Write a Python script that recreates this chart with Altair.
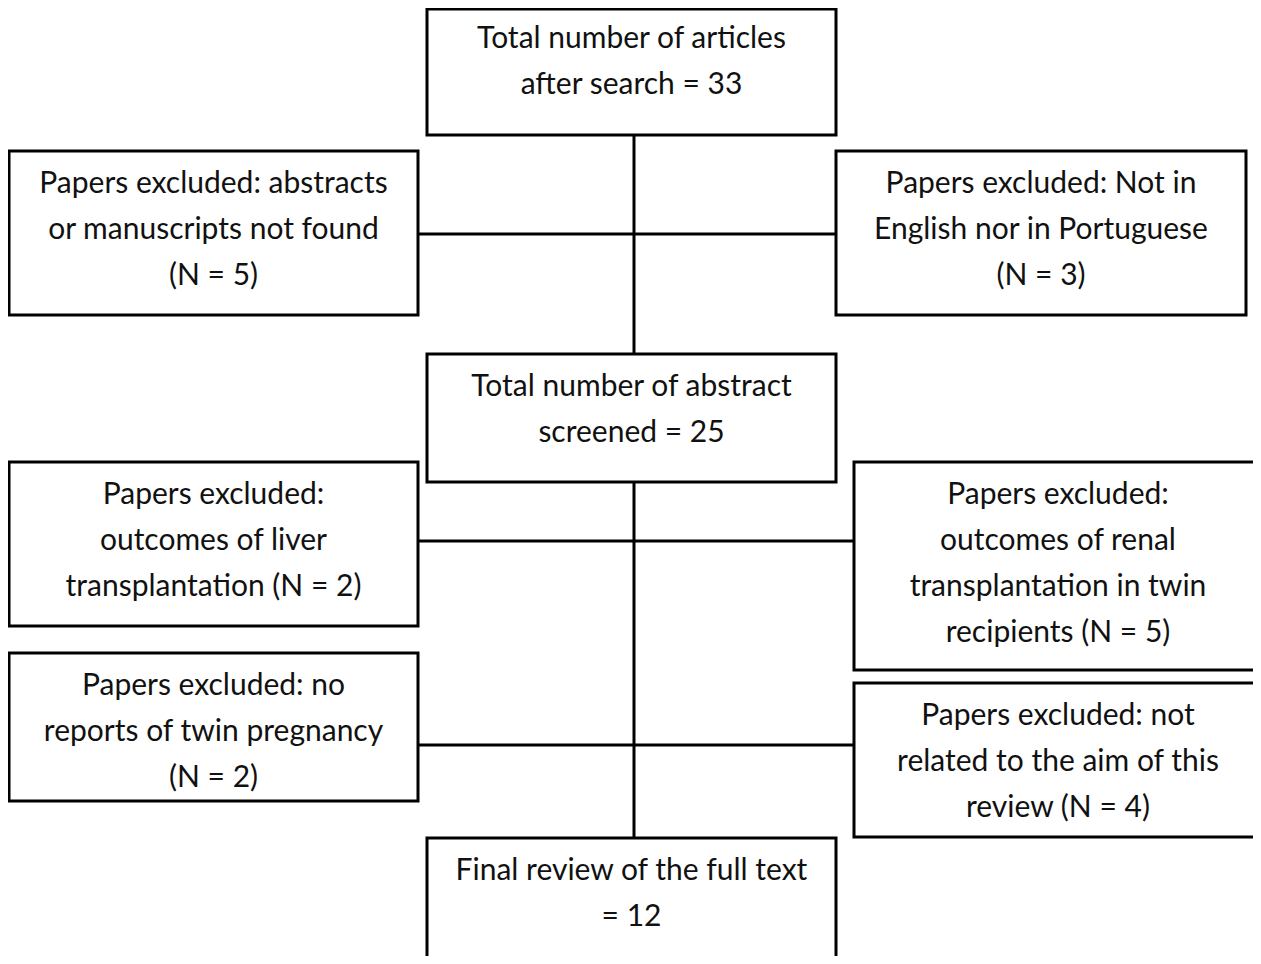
import altair as alt
import pandas as pd

# Box contents (text lines)
box_ids = ["search", "excl_found", "excl_lang", "screened", "excl_liver",
           "excl_renal", "excl_preg", "excl_aim", "final"]
box_lines = [
    ["Total number of articles", "after search = 33"],
    ["Papers excluded: abstracts", "or manuscripts not found", "(N = 5)"],
    ["Papers excluded: Not in", "English nor in Portuguese", "(N = 3)"],
    ["Total number of abstract", "screened = 25"],
    ["Papers excluded:", "outcomes of liver", "transplantation (N = 2)"],
    ["Papers excluded:", "outcomes of renal", "transplantation in twin", "recipients (N = 5)"],
    ["Papers excluded: no", "reports of twin pregnancy", "(N = 2)"],
    ["Papers excluded: not", "related to the aim of this", "review (N = 4)"],
    ["Final review of the full text", "= 12"],
]

# Layout of boxes (diagram coordinates)
box_x0 = [427, 9, 836, 427, 9, 854, 9, 854, 427]
box_x1 = [836, 418, 1246, 836, 418, 1262, 418, 1262, 836]
box_y0 = [9, 151, 151, 354, 462, 462, 653, 683, 838]
box_y1 = [135, 315, 315, 482, 626, 670, 801, 837, 980]

# Connectors
seg_x0 = [634, 634, 418, 418, 418]
seg_x1 = [634, 634, 836, 854, 854]
seg_y0 = [135, 482, 234, 541, 745]
seg_y1 = [354, 838, 234, 541, 745]

LINE_GAP = 46
TOP_PAD = 33

boxes = pd.DataFrame({"id": box_ids, "x0": box_x0, "x1": box_x1,
                      "y0": box_y0, "y1": box_y1})
rows = []
for bid, lines, a, b, t in zip(box_ids, box_lines, box_x0, box_x1, box_y0):
    top = 6 if bid == "search" else t
    for i, ln in enumerate(lines):
        rows.append({"id": bid, "text": ln, "x": (a + b) / 2,
                     "y": top + TOP_PAD + i * LINE_GAP})
texts = pd.DataFrame(rows)
segs = pd.DataFrame({"x0": seg_x0, "x1": seg_x1, "y0": seg_y0, "y1": seg_y1})

xs = alt.Scale(domain=[8, 1253], nice=False, zero=False)
ys = alt.Scale(domain=[956, 8], nice=False, zero=False)

lines = alt.Chart(segs).mark_rule(color="black", strokeWidth=3, clip=True).encode(
    x=alt.X("x0:Q", scale=xs, axis=None), x2="x1:Q",
    y=alt.Y("y0:Q", scale=ys, axis=None), y2="y1:Q")

rects = alt.Chart(boxes).mark_rect(fill="white", stroke="black", strokeWidth=3,
                                   clip=True).encode(
    x=alt.X("x0:Q", scale=xs, axis=None), x2="x1:Q",
    y=alt.Y("y0:Q", scale=ys, axis=None), y2="y1:Q")

labels = alt.Chart(texts).mark_text(font="Lato", fontSize=30,
                                    color="#111111", baseline="middle",
                                    align="center").encode(
    x=alt.X("x:Q", scale=xs, axis=None),
    y=alt.Y("y:Q", scale=ys, axis=None),
    text="text:N")

chart = alt.layer(lines, rects, labels).properties(
    width=1245, height=948
).configure(padding=0, autosize=alt.AutoSizeParams(type="none")).configure_view(stroke=None)

chart.save("out.html", embed_options={"renderer": "svg", "actions": False})
